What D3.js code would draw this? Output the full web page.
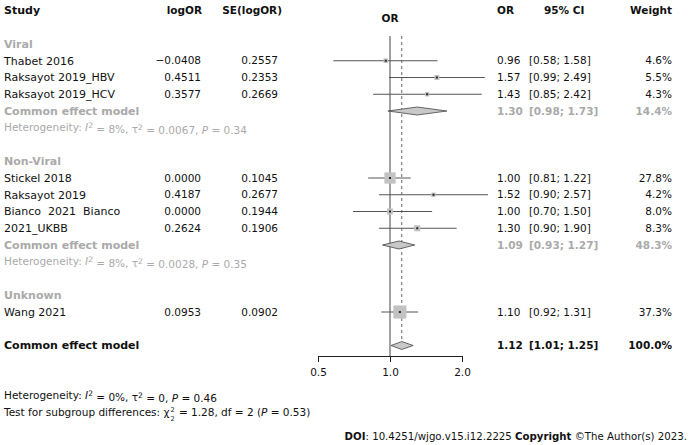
<!DOCTYPE html>
<html>
<head>
<meta charset="utf-8">
<script src="https://cdn.jsdelivr.net/npm/d3@7"></script>
<style>
  body { margin: 0; background: #fff; }
  svg text { font-family: "DejaVu Sans", Verdana, sans-serif; font-size: 10.5px; white-space: pre; }
</style>
</head>
<body>
<div id="chart"></div>
<script>
// Study level data
var studies   = ["Thabet 2016", "Raksayot 2019_HBV", "Raksayot 2019_HCV", "Stickel 2018", "Raksayot 2019", "Bianco  2021  Bianco", "2021_UKBB", "Wang 2021"];
var studyRows = [1, 2, 3, 8, 9, 10, 11, 16];
var logOR     = [-0.0408, 0.4511, 0.3577, 0.0000, 0.4187, 0.0000, 0.2624, 0.0953];
var seLogOR   = [0.2557, 0.2353, 0.2669, 0.1045, 0.2677, 0.1944, 0.1906, 0.0902];
var orVal     = [0.96, 1.57, 1.43, 1.00, 1.52, 1.00, 1.30, 1.10];
var ciLow     = [0.58, 0.99, 0.85, 0.81, 0.90, 0.70, 0.90, 0.92];
var ciHigh    = [1.58, 2.49, 2.42, 1.22, 2.57, 1.50, 1.90, 1.31];
var weights   = [4.6, 5.5, 4.3, 27.8, 4.2, 8.0, 8.3, 37.3];

// Subgroups
var groupNames = ["Viral", "Non-Viral", "Unknown"];
var groupRows  = [0, 7, 15];
var subRows    = [4, 12];
var subOR      = [1.30, 1.09];
var subLow     = [0.98, 0.93];
var subHigh    = [1.73, 1.27];
var subWeight  = [14.4, 48.3];
var hetRows    = [5, 13];
var hetI2      = ["8%", "8%"];
var hetTau2    = ["0.0067", "0.0028"];
var hetP       = ["0.34", "0.35"];

// Overall
var totalRow = 18, totalOR = 1.12, totalLow = 1.01, totalHigh = 1.25, totalWeight = 100.0;
var axisTicks = [0.5, 1, 2];

var width = 695, height = 445,
    black = "#111", grey = "#aaa", fmt2 = d3.format(".2f"), fmt4 = d3.format(".4f");

var svg = d3.select("#chart").append("svg")
    .attr("width", width)
    .attr("height", height);

var y = d3.scaleLinear().domain([0, 22]).range([44, 412.5]);
var x = d3.scaleLog().domain([0.5, 2]).range([318, 462]);

function txt(xp, row, s, anchor, color, bold) {
    return svg.append("text")
        .attr("x", xp)
        .attr("y", y(row))
        .attr("dy", "0.35em")
        .attr("text-anchor", anchor || "start")
        .attr("fill", color || black)
        .attr("font-weight", bold ? "bold" : null)
        .text(s);
}
function minus(v) { return v < 0 ? "\u2212" + fmt4(-v) : fmt4(v); }

// Headers
txt(4, -2, "Study", "start", black, true).style("font-size", "11px");
txt(202, -2, "logOR", "end", black, true);
txt(282, -2, "SE(logOR)", "end", black, true);
txt(497, -2, "OR", "start", black, true);
txt(544, -2, "95% CI", "start", black, true);
txt(672, -2, "Weight", "end", black, true);
svg.append("text").attr("x", 390).attr("y", y(-1.55)).attr("dy", "0.35em")
    .attr("text-anchor", "middle").attr("font-weight", "bold").attr("fill", black).text("OR");

// Reference lines
svg.append("line")
    .attr("x1", x(1)).attr("x2", x(1))
    .attr("y1", 36).attr("y2", 357)
    .attr("stroke", "#444").attr("stroke-width", 1);
svg.append("line")
    .attr("x1", x(totalOR)).attr("x2", x(totalOR))
    .attr("y1", 36).attr("y2", y(totalRow) - 4)
    .attr("stroke", "#666").attr("stroke-width", 1)
    .attr("stroke-dasharray", "3,3");

// Group headings
groupNames.forEach(function(g, i) {
    txt(4, groupRows[i], g, "start", grey, true).style("font-size", "11px");
});

// Studies
studies.forEach(function(s, i) {
    var r = studyRows[i];
    txt(4, r, s).style("font-size", "11px");
    txt(201, r, minus(logOR[i]), "end");
    txt(278, r, fmt4(seLogOR[i]), "end");
    txt(497, r, fmt2(orVal[i]));
    txt(529, r, "[" + fmt2(ciLow[i]) + "; " + fmt2(ciHigh[i]) + "]");
    txt(672, r, weights[i].toFixed(1) + "%", "end");

    svg.append("line")
        .attr("x1", x(ciLow[i])).attr("x2", x(ciHigh[i]))
        .attr("y1", y(r)).attr("y2", y(r))
        .attr("stroke", "#555").attr("stroke-width", 1);
    var side = 13 * Math.sqrt(weights[i] / 37.3);
    svg.append("rect")
        .attr("x", x(orVal[i]) - side / 2).attr("y", y(r) - side / 2)
        .attr("width", side).attr("height", side)
        .attr("fill", "#c2c2c2");
    svg.append("rect")
        .attr("x", x(orVal[i]) - 1).attr("y", y(r) - 1)
        .attr("width", 2).attr("height", 2)
        .attr("fill", "#222");
});

function diamond(row, est, lo, hi) {
    var yc = y(row), h = 4;
    svg.append("path")
        .attr("d", "M" + x(lo) + "," + yc + "L" + x(est) + "," + (yc - h) +
                   "L" + x(hi) + "," + yc + "L" + x(est) + "," + (yc + h) + "Z")
        .attr("fill", "#c8c8c8").attr("stroke", "#444").attr("stroke-width", 0.8);
}

// Subgroup summaries
subRows.forEach(function(r, i) {
    txt(4, r, "Common effect model", "start", grey, true).style("font-size", "11px");
    txt(497, r, fmt2(subOR[i]), "start", grey, true);
    txt(529, r, "[" + fmt2(subLow[i]) + "; " + fmt2(subHigh[i]) + "]", "start", grey, true);
    txt(672, r, subWeight[i].toFixed(1) + "%", "end", grey, true);
    diamond(r, subOR[i], subLow[i], subHigh[i]);
});

function hetText(row, color, i2, tau2, p) {
    var t = txt(4, row, "", "start", color);
    t.append("tspan").text("Heterogeneity: ");
    t.append("tspan").attr("font-style", "italic").text("I");
    t.append("tspan").attr("dy", "-0.4em").attr("font-size", "7.5px").text("2");
    t.append("tspan").attr("dy", "0.4em").text(" = " + i2 + ", \u03c4");
    t.append("tspan").attr("dy", "-0.4em").attr("font-size", "7.5px").text("2");
    t.append("tspan").attr("dy", "0.4em").text(" = " + tau2 + ", ");
    t.append("tspan").attr("font-style", "italic").text("P");
    t.append("tspan").text(" = " + p);
}
hetRows.forEach(function(r, i) { hetText(r, grey, hetI2[i], hetTau2[i], hetP[i]); });

// Overall
txt(4, totalRow, "Common effect model", "start", black, true).style("font-size", "11px");
txt(497, totalRow, fmt2(totalOR), "start", black, true);
txt(529, totalRow, "[" + fmt2(totalLow) + "; " + fmt2(totalHigh) + "]", "start", black, true);
txt(672, totalRow, totalWeight.toFixed(1) + "%", "end", black, true);
diamond(totalRow, totalOR, totalLow, totalHigh);

// Axis
var ax = svg.append("g")
    .attr("transform", "translate(0,356)")
    .call(d3.axisBottom(x).tickValues(axisTicks).tickSize(6).tickSizeOuter(0).tickPadding(7)
          .tickFormat(d3.format(".1f")));
ax.selectAll("path, line").attr("stroke", "#222");
ax.selectAll("text").attr("fill", black).style("font-size", "10.5px")
    .style("font-family", "\"DejaVu Sans\", Verdana, sans-serif");

// Bottom notes
hetText(21, black, "0%", "0", "0.46");
var t2 = txt(4, 22, "Test for subgroup differences: \u03c7", "start", black);
var chiEnd = 4 + t2.node().getComputedTextLength();
svg.append("text").attr("x", chiEnd + 1).attr("y", y(22) - 0.5)
    .attr("fill", black).style("font-size", "6.5px").text("2");
svg.append("text").attr("x", chiEnd + 1).attr("y", y(22) + 8)
    .attr("fill", black).style("font-size", "6.5px").text("2");
var t3 = svg.append("text").attr("x", chiEnd + 6).attr("y", y(22)).attr("dy", "0.35em")
    .attr("fill", black);
t3.append("tspan").text(" = 1.28, df = 2 (");
t3.append("tspan").attr("font-style", "italic").text("P");
t3.append("tspan").text(" = 0.53)");

var doi = svg.append("text").attr("x", 687).attr("y", 436).attr("dy", "0.35em")
    .attr("text-anchor", "end").attr("fill", black).style("font-size", "10.2px");
doi.append("tspan").attr("font-weight", "bold").text("DOI");
doi.append("tspan").text(": 10.4251/wjgo.v15.i12.2225 ");
doi.append("tspan").attr("font-weight", "bold").text("Copyright");
doi.append("tspan").text(" \u00a9The Author(s) 2023.");
</script>
</body>
</html>
